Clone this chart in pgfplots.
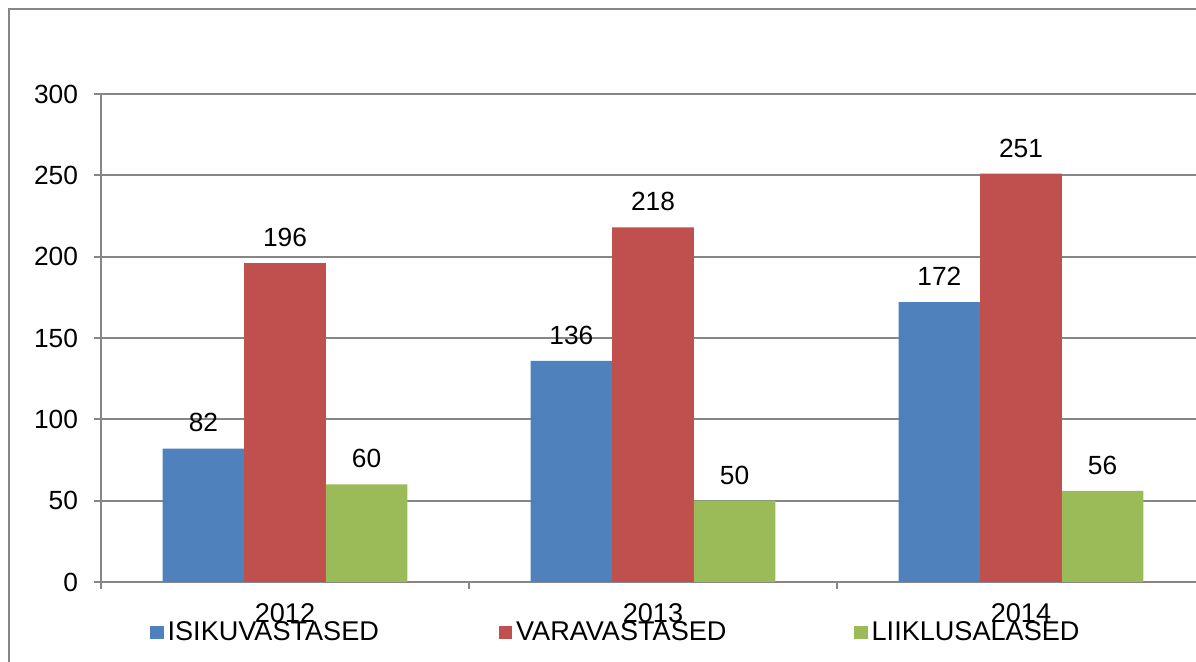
\documentclass[border=0pt]{standalone}
\usepackage{pgfplots}
\pgfplotsset{compat=1.18}
\usepackage{fontspec}
\setmainfont{Liberation Sans}
\definecolor{cblue}{HTML}{4F81BD}
\definecolor{cred}{HTML}{C0504D}
\definecolor{cgreen}{HTML}{9BBB59}
\definecolor{axgray}{HTML}{868686}
\begin{document}
\begin{tikzpicture}
\path[use as bounding box, clip] (0,0) rectangle (598bp,331bp);
\draw[color=axgray, line width=1bp] (4.5bp,-10bp) rectangle (620bp,326.5bp);
\begin{axis}[
  at={(50.5bp,40bp)}, anchor=south west,
  scale only axis, width=552bp, height=244bp,
  xmin=-0.5, xmax=2.5, ymin=0, ymax=300,
  ybar=0pt, bar width=40.8bp,
  axis x line=bottom, axis y line=left,
  axis line style={-, draw=axgray, line width=0.9bp},
  xtick={-0.5,0.5,1.5,2.5}, xticklabels={},
  extra x ticks={0,1,2}, extra x tick labels={2012,2013,2014},
  extra x tick style={major tick length=0pt},
  ytick={0,50,...,300},
  ymajorgrids, grid style={draw=axgray, line width=0.9bp},
  tick align=outside, major tick length=3.3bp,
  tick style={draw=axgray, line width=0.9bp},
  tick label style={font=\fontsize{13.2}{15}\selectfont, inner sep=0pt},
  yticklabel style={xshift=-8bp},
  xticklabel style={yshift=-10.5bp, font=\fontsize{13.6}{15}\selectfont},
  /pgf/number format/assume math mode=true,
  nodes near coords,
  every node near coord/.append style={font=\fontsize{13.2}{15}\selectfont, inner sep=0pt, anchor=south, yshift=8bp, text=black},
  legend columns=3,
  legend style={at={(0.0444,-0.1035)}, anchor=west, draw=none, fill=none, inner sep=0pt,
    nodes={inner sep=0pt, font=\fontsize{13.6}{15}\selectfont},
    /tikz/every odd column/.append style={column sep=2bp},
    /tikz/column 2/.append style={column sep=60bp},
    /tikz/column 4/.append style={column sep=64bp}},
  legend image code/.code={\fill[#1] (0bp,-3.3bp) rectangle (6.6bp,3.3bp);},
]
\addplot[fill=cblue, draw=none] coordinates {(0,82) (1,136) (2,172)};
\addplot[fill=cred, draw=none] coordinates {(0,196) (1,218) (2,251)};
\addplot[fill=cgreen, draw=none] coordinates {(0,60) (1,50) (2,56)};
\legend{ISIKUVASTASED, VARAVASTASED, LIIKLUSALASED}
\end{axis}
\end{tikzpicture}
\end{document}
